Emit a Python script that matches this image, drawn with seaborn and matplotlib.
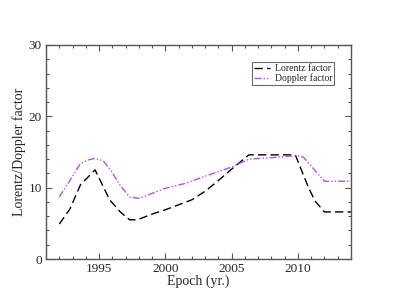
import numpy as np
import pandas as pd
import matplotlib
matplotlib.use("Agg")
import matplotlib.pyplot as plt
import seaborn as sns
from matplotlib.ticker import MultipleLocator

lorentz_year = [1992.0, 1992.8, 1993.6, 1994.7, 1995.3, 1995.8, 1996.6, 1997.3, 1997.9, 1999.0, 2000.0, 2001.0, 2002.0, 2003.0, 2004.0, 2005.0, 2006.3, 2009.8, 2010.3, 2010.8, 2011.3, 2012.0, 2014.0]
lorentz_val = [4.9, 7.0, 10.4, 12.5, 10.2, 8.3, 6.6, 5.5, 5.5, 6.3, 6.9, 7.6, 8.3, 9.5, 11.0, 12.6, 14.6, 14.6, 12.3, 10.0, 8.1, 6.6, 6.6]

doppler_year = [1992.0, 1992.8, 1993.6, 1994.2, 1994.7, 1995.3, 1995.9, 1996.6, 1997.3, 1998.0, 1999.0, 2000.0, 2001.5, 2003.0, 2005.0, 2006.3, 2008.0, 2009.9, 2010.4, 2011.2, 2012.0, 2014.0]
doppler_val = [8.7, 11.0, 13.4, 13.9, 14.1, 13.8, 12.4, 10.3, 8.7, 8.5, 9.2, 9.9, 10.6, 11.6, 12.9, 14.0, 14.2, 14.5, 14.3, 12.6, 10.9, 10.9]

sns.set_theme(style="white")
plt.rcParams['font.family'] = ['Liberation Serif', 'DejaVu Serif']

fig = plt.figure(figsize=(3.95, 3.05), dpi=100)
ax = fig.add_axes([0.1165, 0.1508, 0.772, 0.7017])

df_l = pd.DataFrame({"year": lorentz_year, "val": lorentz_val})
df_d = pd.DataFrame({"year": doppler_year, "val": doppler_val})

sns.lineplot(data=df_l, x="year", y="val", ax=ax, color="black", lw=1.0,
             label="Lorentz factor", linestyle=(0, (6, 3)), sort=False)
sns.lineplot(data=df_d, x="year", y="val", ax=ax, color="#b84ef0", lw=1.0,
             label="Doppler factor", linestyle=(0, (5, 1.5, 1, 1.5, 1, 1.5)), sort=False)

ax.set_xlim(1991, 2014)
ax.set_ylim(0, 30)
ax.xaxis.set_major_locator(MultipleLocator(5))
ax.xaxis.set_minor_locator(MultipleLocator(1))
ax.yaxis.set_major_locator(MultipleLocator(10))
ax.yaxis.set_minor_locator(MultipleLocator(2))
ax.tick_params(which='both', direction='in', top=True, right=True, bottom=True, left=True,
               color='#555555', width=0.8, labelsize=9.5, pad=3)
ax.tick_params(which='major', length=4)
ax.tick_params(which='minor', length=2)
for s in ax.spines.values():
    s.set_color('#555555')
    s.set_linewidth(1.0)

ax.set_xlabel("Epoch (yr.)", fontsize=10, labelpad=-0.5)
ax.set_ylabel("Lorentz/Doppler factor", fontsize=10, labelpad=2)

leg = ax.legend(loc='upper right', bbox_to_anchor=(0.945, 0.92), fontsize=7,
                frameon=True, fancybox=False, handlelength=1.6, borderpad=0.2,
                labelspacing=0.05, handletextpad=0.5, borderaxespad=0.0)
leg.get_frame().set_edgecolor('#444444')
leg.get_frame().set_linewidth(0.8)

fig.savefig("out.png", dpi=100)
